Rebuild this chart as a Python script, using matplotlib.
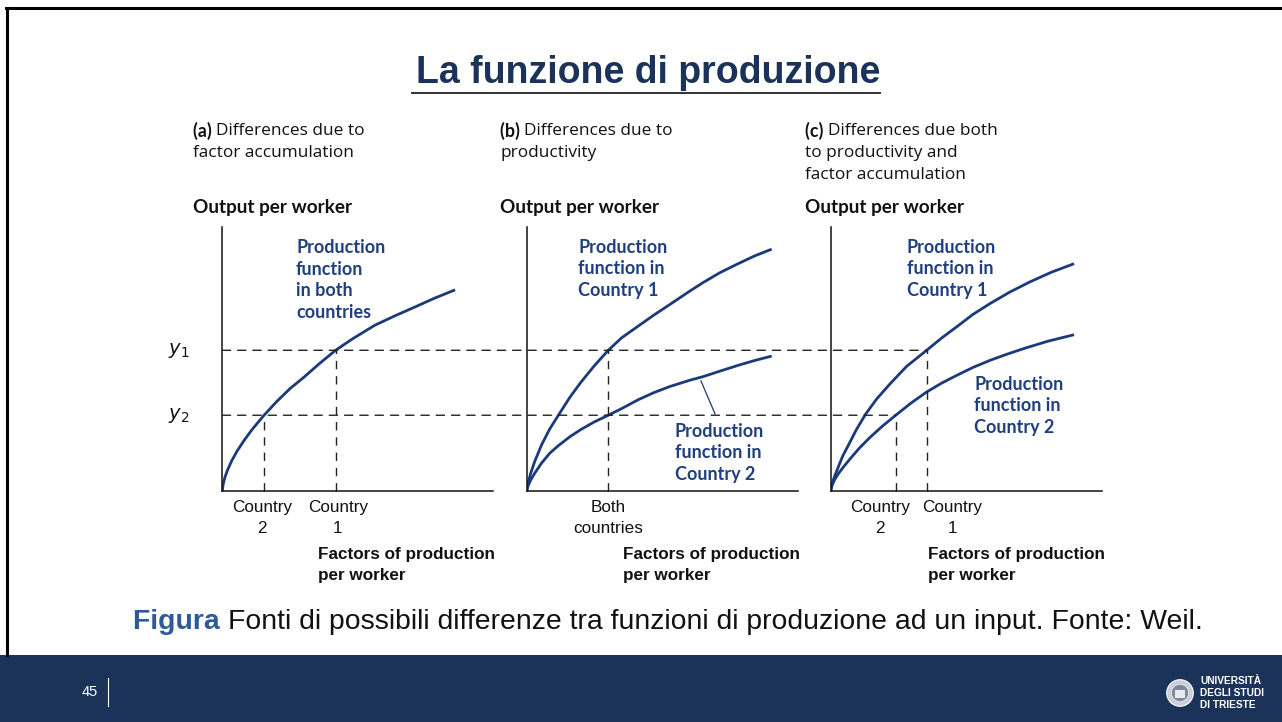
import matplotlib
matplotlib.use('Agg')
import matplotlib.pyplot as plt
from matplotlib.patches import ConnectionPatch, Rectangle, Circle


# curve values (x: factors per worker, y: output per worker, 0-100 scale)
a_x = [0, 0.3, 1, 2, 3.5, 5.5, 8, 11, 15.4, 20, 25, 30, 36, 41.8, 48, 56.3, 64, 71.1, 78, 85.9]
a_y = [0, 2.5, 5.3, 8.1, 11.5, 15.2, 19.1, 23.3, 28.7, 33.8, 38.8, 43.0, 48.4, 53.3, 57.6,
       62.8, 66.5, 69.7, 72.9, 76.2]

b1_x = [0, 0.5, 1.5, 3, 5.5, 8.5, 11.7, 16, 20, 25, 30.1, 35, 41.2, 47, 52.9, 60, 65, 71.3,
        78, 84, 90.4]
b1_y = [0, 3.0, 6.8, 11.3, 17.5, 23.5, 28.7, 35.6, 41.2, 47.5, 53.3, 58.0, 62.5, 66.7, 70.7,
        75.6, 78.9, 82.7, 86.1, 89.0, 91.6]
b2_x = [0, 0.5, 1.5, 3, 5.5, 8.5, 11.7, 16, 20, 25, 30.1, 35, 41.2, 47, 52.9, 60, 65, 71.3,
        78, 84, 90.4]
b2_y = [0, 1.9, 4.2, 6.8, 10.6, 14.3, 17.2, 20.6, 23.3, 26.2, 28.7, 31.2, 34.6, 37.3, 39.6,
        41.9, 43.3, 45.4, 47.6, 49.4, 51.1]

c1_x = [0, 0.4, 1.2, 2.8, 4.5, 6.5, 9.5, 13, 17, 21.9, 28, 35.4, 41, 46.5, 52.5, 58.8, 66,
        73.5, 81.5, 89.8]
c1_y = [0, 2.2, 4.9, 9.1, 13.4, 17.3, 23.3, 29.3, 34.9, 40.6, 47.2, 53.3, 58.0, 62.2, 66.9,
        71.0, 75.3, 79.2, 82.9, 86.1]
c2_x = [0, 0.5, 1.5, 3, 4.7, 7.5, 10.8, 14.5, 19, 24, 29.5, 35.4, 41, 46.5, 52.5, 58.8, 65,
        71.1, 80, 89.8]
c2_y = [0, 2.1, 4.4, 6.8, 9.1, 12.6, 16.5, 20.3, 24.5, 28.7, 33.2, 37.5, 40.9, 43.8, 46.8,
        49.5, 51.8, 53.9, 56.7, 59.2]

y1 = 53.3
y2 = 28.7
a_country2, a_country1 = 15.4, 41.8
b_both = 30.1
c_country2, c_country1 = 24.0, 35.4

panel_titles = ['Differences due to\nfactor accumulation',
                'Differences due to\nproductivity',
                'Differences due both\nto productivity and\nfactor accumulation']
panel_tags = ['(a)', '(b)', '(c)']

W, H = 1282, 722
NAVY = '#1c3359'
CURVE = '#1b3a7a'
LABEL = '#1f3f80'
SANS = ['Open Sans', 'DejaVu Sans']
BOLD = ['Lato', 'DejaVu Sans']
ARIAL = ['Liberation Sans', 'DejaVu Sans']


def fx(x):
    return x / W


def fy(y):
    return 1 - y / H


def make_axes(fig, left_px):
    ax = fig.add_axes([fx(left_px), fy(491), 271 / W, 264 / H])
    ax.set_xlim(0, 100)
    ax.set_ylim(0, 100)
    ax.set_xticks([])
    ax.set_yticks([])
    for s in ['top', 'right']:
        ax.spines[s].set_visible(False)
    for s in ['left', 'bottom']:
        ax.spines[s].set_linewidth(1.1)
        ax.spines[s].set_color('#111111')
    ax.patch.set_alpha(0)
    return ax


def vdash(ax, x, y):
    ax.plot([x, x], [0, y], color='#222222', lw=1.0, dashes=(6, 5), clip_on=False)


def main():
    fig = plt.figure(figsize=(W / 100, H / 100), dpi=100)
    fig.patch.set_facecolor('white')

    # slide frame
    fig.add_artist(plt.Line2D([fx(6), 1], [fy(8), fy(8)], color='black', lw=2.2))
    fig.add_artist(plt.Line2D([fx(7), fx(7)], [fy(8), fy(655)], color='black', lw=2.2))

    # title
    fig.text(fx(648), fy(73), 'La funzione di produzione', ha='center', va='center',
             fontsize=27, fontweight='bold', color=NAVY, family=ARIAL)
    fig.add_artist(plt.Line2D([fx(412), fx(880)], [fy(93), fy(93)], color='#333333', lw=1.4))

    axa = make_axes(fig, 222.3)
    axb = make_axes(fig, 526.7)
    axc = make_axes(fig, 830.7)

    # panel headers
    fig.canvas.draw()
    rend = fig.canvas.get_renderer()
    for tag, title, xl in zip(panel_tags, panel_titles, [193, 500, 805]):
        lines = title.split('\n')
        for i, ln in enumerate(lines):
            if i == 0:
                t = fig.text(fx(xl), fy(131), tag + ' ', ha='left', va='center', fontsize=12.8,
                             fontweight='bold', color='#111111', family=BOLD)
                bb = t.get_window_extent(renderer=rend)
                fig.text(bb.x1 / W, fy(131), ln, ha='left', va='center', fontsize=12.4,
                         color='#111111', family=SANS)
            else:
                fig.text(fx(xl), fy(131 + 22 * i), ln, ha='left', va='center', fontsize=12.4,
                         color='#111111', family=SANS)
        fig.text(fx(xl), fy(207), 'Output per worker', ha='left', va='center', fontsize=13.6,
                 fontweight='bold', color='#111111', family=BOLD)

    # curves
    for ax, xs, ys in [(axa, a_x, a_y), (axb, b1_x, b1_y), (axb, b2_x, b2_y),
                       (axc, c1_x, c1_y), (axc, c2_x, c2_y)]:
        ax.plot(xs, ys, color=CURVE, lw=2.0, solid_capstyle='butt', solid_joinstyle='round')

    # dashed guides
    vdash(axa, a_country2, y2)
    vdash(axa, a_country1, y1)
    vdash(axb, b_both, y1)
    vdash(axc, c_country2, y2)
    vdash(axc, c_country1, y1)
    for yy, xend in [(y1, c_country1), (y2, c_country2)]:
        con = ConnectionPatch(xyA=(0, yy), coordsA=axa.transData,
                              xyB=(xend, yy), coordsB=axc.transData,
                              color='#222222', lw=1.0, linestyle=(0, (6, 5)))
        fig.add_artist(con)

    # y labels
    for yy, lab in [(y1, '$y_1$'), (y2, '$y_2$')]:
        axa.text(-20, yy, lab, ha='left', va='center', fontsize=14, color='#111111')

    # curve labels
    kw = dict(ha='left', va='center', fontsize=13, fontweight='bold', color=LABEL,
              family=BOLD, linespacing=1.32)
    fig.text(fx(296), fy(280), 'Production\nfunction\nin both\ncountries', **kw)
    fig.text(fx(578), fy(269), 'Production\nfunction in\nCountry 1', **kw)
    fig.text(fx(675), fy(453), 'Production\nfunction in\nCountry 2', **kw)
    fig.text(fx(907), fy(269), 'Production\nfunction in\nCountry 1', **kw)
    fig.text(fx(974), fy(406), 'Production\nfunction in\nCountry 2', **kw)
    axb.plot([64.3, 69.5], [41.7, 29.2], color=CURVE, lw=0.9)

    # x labels
    xk = dict(ha='center', va='center', fontsize=12.3, color='#111111', family=ARIAL,
              linespacing=1.5)
    fig.text(fx(262), fy(518), 'Country\n2', **xk)
    fig.text(fx(338), fy(518), 'Country\n1', **xk)
    fig.text(fx(608), fy(518), 'Both\ncountries', **xk)
    fig.text(fx(880), fy(518), 'Country\n2', **xk)
    fig.text(fx(952), fy(518), 'Country\n1', **xk)
    for xl in [318, 623, 928]:
        fig.text(fx(xl), fy(565), 'Factors of production\nper worker', ha='left', va='center',
                 fontsize=12.3, fontweight='bold', color='#111111', family=ARIAL,
                 linespacing=1.5)

    # caption
    cap = fig.text(fx(133), fy(622), 'Figura ', ha='left', va='center', fontsize=20.45,
                   fontweight='bold', color='#2e5a9a', family=ARIAL)
    bb = cap.get_window_extent(renderer=rend)
    fig.text(bb.x1 / W, fy(622),
             'Fonti di possibili differenze tra funzioni di produzione ad un input. Fonte: Weil.',
             ha='left', va='center', fontsize=20.45, color='#111111', family=ARIAL)

    # footer
    fig.add_artist(Rectangle((0, 0), 1, fy(655), transform=fig.transFigure,
                             facecolor=NAVY, edgecolor='none', zorder=0))
    fig.text(fx(90), fy(692), '45', ha='center', va='center', fontsize=10.5, color='white',
             family=ARIAL)
    fig.add_artist(plt.Line2D([fx(108), fx(108)], [fy(678), fy(706)], color='white', lw=0.8))
    logo = fig.add_axes([fx(1166), fy(707), 28 / W, 28 / H])
    logo.set_xlim(-1, 1)
    logo.set_ylim(-1, 1)
    logo.axis('off')
    logo.add_patch(Circle((0, 0), 0.95, facecolor='#c9ced8', edgecolor='white', lw=0.8))
    logo.add_patch(Circle((0, 0), 0.62, facecolor='#7d879b', edgecolor='#e6e8ee', lw=0.6))
    logo.add_patch(Rectangle((-0.35, -0.35), 0.7, 0.6, facecolor='#e8eaef', edgecolor='none'))
    for i, t in enumerate(['UNIVERSITÀ', 'DEGLI STUDI', 'DI TRIESTE']):
        fig.text(fx(1200), fy(681 + 12 * i), t, ha='left', va='center', fontsize=7.3,
                 fontweight='bold', color='white', family=ARIAL)

    fig.savefig('out.png', dpi=100, facecolor='white')


if __name__ == '__main__':
    main()
